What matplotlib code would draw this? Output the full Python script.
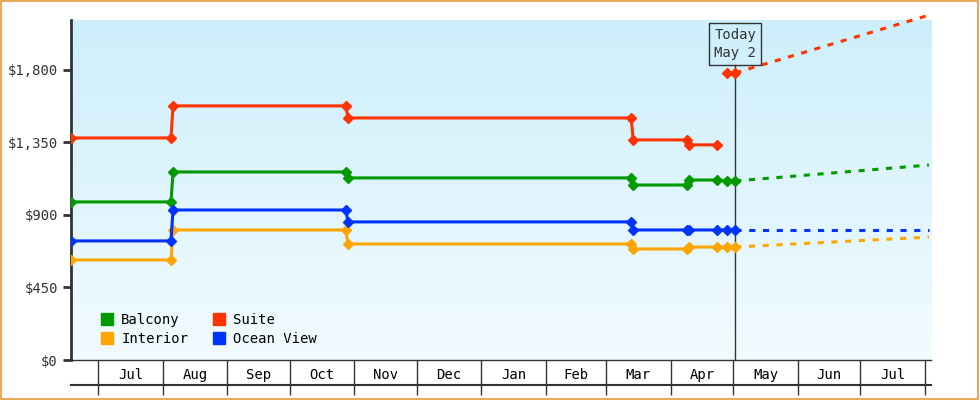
import datetime as dt
import numpy as np
import matplotlib
matplotlib.use("Agg")
import matplotlib.pyplot as plt
import matplotlib.dates as mdates
from matplotlib.lines import Line2D
import matplotlib.transforms as mtransforms

plt.rcParams["font.family"] = ["DejaVu Sans Mono"]

# change dates (price steps) and prices per cabin type
step_dates = ["2023-06-18", "2023-08-05", "2023-10-28", "2024-03-13", "2024-04-09"]
suite = [1378, 1577, 1502, 1366, 1335]
balcony = [981, 1167, 1130, 1086, 1117]
ocean = [739, 931, 857, 807, 807]
interior = [621, 807, 720, 689, 701]
last_obs = "2024-04-23"
recent_dates = ["2024-04-28", "2024-05-02"]
suite_recent = [1782, 1782]
balcony_recent = [1111, 1111]
ocean_recent = [807, 807]
interior_recent = [701, 701]
forecast_end = "2024-08-03"
suite_fc = 2140
balcony_fc = 1210
ocean_fc = 807
interior_fc = 763

months = ["Jul", "Aug", "Sep", "Oct", "Nov", "Dec", "Jan", "Feb", "Mar", "Apr", "May", "Jun", "Jul"]
month_starts = ["2023-07-01", "2023-08-01", "2023-09-01", "2023-10-01", "2023-11-01", "2023-12-01",
                "2024-01-01", "2024-02-01", "2024-03-01", "2024-04-01", "2024-05-01", "2024-06-01",
                "2024-07-01", "2024-08-01"]
yticks = [0, 450, 900, 1350, 1800]


def d(s):
    return mdates.date2num(dt.datetime.strptime(s, "%Y-%m-%d"))


fig = plt.figure(figsize=(9.8, 4.0), dpi=100)
fig.patches.append(plt.Rectangle((0.001, 0.002), 0.997, 0.995, transform=fig.transFigure,
                                 fill=False, edgecolor="#e8a860", linewidth=1.5))
ax = fig.add_axes([71 / 980, 40 / 400, 860 / 980, 340 / 400])
ax.set_xlim(d("2023-06-18"), d("2024-08-04"))
ax.set_ylim(0, 2110)

grad = np.linspace(0, 1, 256).reshape(-1, 1)
cmap = matplotlib.colors.LinearSegmentedColormap.from_list("bg", ["#f2fbff", "#cdeffb"])
ax.imshow(grad, extent=[0, 1, 0, 1], transform=ax.transAxes, cmap=cmap, origin="lower",
          aspect="auto", zorder=0)

series = [("Balcony", "#009900", balcony, balcony_recent, balcony_fc),
          ("Interior", "#ffa500", interior, interior_recent, interior_fc),
          ("Suite", "#ff3300", suite, suite_recent, suite_fc),
          ("Ocean View", "#0033ff", ocean, ocean_recent, ocean_fc)]

for name, col, vals, rec, fc in series:
    xs, ys = [d(step_dates[0])], [vals[0]]
    for i in range(1, len(vals)):
        x = d(step_dates[i])
        xs += [x, x + 1]
        ys += [vals[i - 1], vals[i]]
    xs.append(d(last_obs))
    ys.append(vals[-1])
    rx = [d(s) for s in recent_dates]
    if name == "Suite":
        ax.plot(xs, ys, color=col, lw=2.2, marker="D", ms=5, zorder=3)
        ax.plot(rx, rec, color=col, lw=2.2, marker="D", ms=5, zorder=3)
    else:
        ax.plot(xs + rx, ys + rec, color=col, lw=2.2, marker="D", ms=5, zorder=3)
    ax.plot([rx[-1], d(forecast_end)], [rec[-1], fc], color=col, lw=2.2,
            linestyle=(0, (2, 2.5)), zorder=3, clip_on=False)

# today marker
today = d("2024-05-02")
ax.plot([today, today], [0, 1833], color="#333333", lw=1, zorder=2)
ax.text(today, 1960, "Today\nMay 2", ha="center", va="center", fontsize=10, color="#333333",
        linespacing=1.4, bbox=dict(boxstyle="square,pad=0.35", fc="none", ec="#333333", lw=1))

ax.set_yticks(yticks)
ax.set_yticklabels(["${:,}".format(v) for v in yticks], fontsize=10, color="#333333")
ax.tick_params(axis="y", length=6, width=2, color="#333333")
for s in ["top", "right", "bottom"]:
    ax.spines[s].set_visible(False)
ax.spines["left"].set_linewidth(2)
ax.spines["left"].set_color("#333333")

# month axis boxes
starts = [d(s) for s in month_starts]
ax.set_xticks(starts)
ax.set_xticklabels([])
ax.tick_params(axis="x", which="major", length=25, width=1, color="#333333")
ax.set_xticks([(a + b) / 2 for a, b in zip(starts[:-1], starts[1:])], minor=True)
ax.set_xticklabels(months, minor=True, fontsize=10)
ax.tick_params(axis="x", which="minor", length=0, pad=6)
trans = mtransforms.blended_transform_factory(ax.transAxes, ax.transAxes)
ax.plot([0, 1], [0, 0], transform=trans, color="#333333", lw=1, clip_on=False)
ax.plot([0, 1], [-25 / 340, -25 / 340], transform=trans, color="#333333", lw=1.5, clip_on=False)

handles = [Line2D([], [], marker="s", ls="", color=c, ms=9, label=n) for n, c, *_ in series]
ax.legend(handles=handles, ncol=2, loc="lower left", frameon=False, fontsize=10,
          handletextpad=0.0, columnspacing=1.2, labelspacing=0.4, borderaxespad=0.6,
          bbox_to_anchor=(0.01, 0.0))

fig.savefig("out.png")
